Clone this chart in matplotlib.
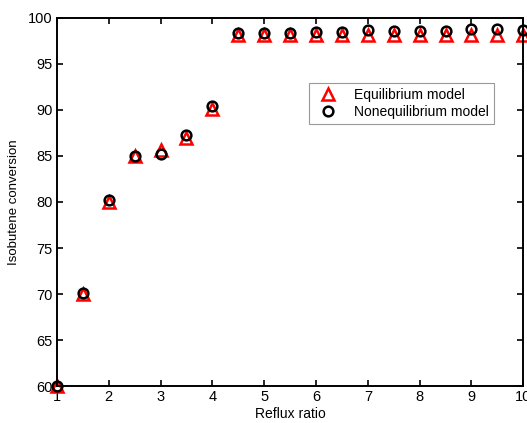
import numpy as np
import matplotlib
matplotlib.use("Agg")
import matplotlib.pyplot as plt

plt.rcParams['font.family'] = ['Liberation Sans', 'DejaVu Sans']

reflux_ratio = [1, 1.5, 2, 2.5, 3, 3.5, 4, 4.5, 5, 5.5, 6, 6.5, 7, 7.5, 8, 8.5, 9, 9.5, 10]
equilibrium = [60.0, 70.0, 80.0, 85.0, 85.6, 87.0, 90.1, 98.1, 98.1, 98.1, 98.1, 98.1,
               98.1, 98.1, 98.1, 98.1, 98.1, 98.1, 98.1]
nonequilibrium = [60.0, 70.1, 80.2, 85.0, 85.2, 87.3, 90.4, 98.4, 98.4, 98.4, 98.5, 98.5,
                  98.7, 98.6, 98.6, 98.6, 98.8, 98.8, 98.7]

fig = plt.figure(figsize=(5.27, 4.23), dpi=100)
ax = fig.add_axes([0.108, 0.087, 0.885, 0.871])

ax.plot(reflux_ratio, equilibrium, linestyle='none', marker='^', markersize=8.5,
        markerfacecolor='none', markeredgecolor='red', markeredgewidth=1.8,
        label='Equilibrium model', clip_on=False)
ax.plot(reflux_ratio, nonequilibrium, linestyle='none', marker='o', markersize=7,
        markerfacecolor='none', markeredgecolor='black', markeredgewidth=1.8,
        label='Nonequilibrium model', clip_on=False)

ax.set_xlim(1, 10)
ax.set_ylim(60, 100)
ax.set_xticks(range(1, 11))
ax.set_yticks(range(60, 101, 5))
ax.tick_params(direction='in', top=True, right=True, length=4, width=1.2,
               labelsize=10.5, pad=3)
for s in ax.spines.values():
    s.set_linewidth(1.4)

ax.set_xlabel('Reflux ratio', fontsize=10, labelpad=2)
ax.set_ylabel('Isobutene conversion', fontsize=9.5, labelpad=6)

leg = ax.legend(loc='upper right', bbox_to_anchor=(0.952, 0.842), fontsize=10,
                fancybox=False, framealpha=1, edgecolor='#999999',
                handletextpad=0.9, borderpad=0.35, labelspacing=0.25)
leg.get_frame().set_linewidth(0.8)

fig.savefig('out.png', dpi=100)
